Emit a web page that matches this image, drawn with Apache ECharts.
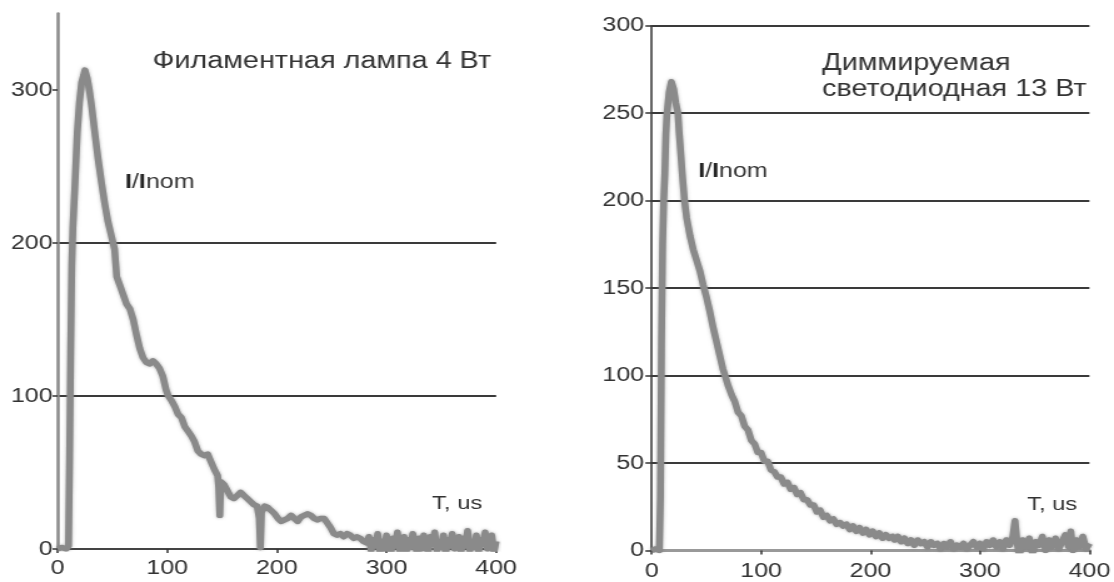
<!DOCTYPE html>
<html>
<head>
<meta charset="utf-8">
<script src="https://cdn.jsdelivr.net/npm/echarts@6/dist/echarts.min.js"></script>
<style>
  html, body { margin: 0; padding: 0; background: #fff; overflow: hidden; }
  /* the source picture is stretched sideways, so the chart is drawn narrow and widened */
  #chart { width: 891px; height: 582px; transform: scaleX(1.2503); transform-origin: 0 0; }
</style>
</head>
<body>
<div id="chart"></div>
<script>
// filament lamp 4 W: time (us) and I/Inom
var leftT = [0, 4, 8, 10, 11, 12, 13, 14, 16, 18, 20, 22, 24, 25, 27, 29, 31, 34, 37, 40,
  43, 46, 49, 52, 54, 57, 60, 63, 66, 69, 72, 75, 78, 81, 84, 87, 90, 93, 96, 99,
  101, 104, 107, 110, 113, 116, 119, 122, 125, 128, 131, 134, 137, 140, 143, 146, 147, 148, 149, 152,
  155, 158, 161, 164, 167, 170, 173, 176, 179, 182, 184, 185, 186, 189, 192, 195, 198, 201, 204, 207,
  210, 213, 216, 219, 222, 225, 228, 231, 234, 237, 240, 243, 246, 249, 252, 255, 258, 261, 264, 267,
  270, 273, 276, 279, 282, 284, 286, 288, 290, 292, 294, 296, 298, 300, 302, 304, 306, 308, 310, 312,
  314, 316, 318, 320, 322, 324, 326, 328, 330, 332, 334, 336, 338, 340, 342, 344, 346, 348, 350, 352,
  354, 356, 358, 360, 362, 364, 366, 368, 370, 372, 374, 376, 378, 380, 382, 384, 386, 388, 390, 392,
  394, 396, 398, 400];
var leftV = [0, 1, 0, 2, 60, 130, 185, 210, 240, 272, 292, 305, 310, 313, 308, 300, 290, 272, 255, 240,
  226, 214, 205, 196, 178, 172, 166, 160, 157, 150, 140, 131, 125, 122, 121, 123, 121, 118, 113, 104,
  100, 97, 93, 88, 86, 80, 77, 74, 70, 64, 62, 61, 62, 57, 52, 48, 40, 22, 44, 42,
  38, 34, 33, 35, 37, 35, 33, 31, 29, 28, 20, 1, 24, 28, 27, 25, 23, 20, 18, 19,
  20, 22, 20, 18, 21, 22, 23, 22, 20, 19, 20, 20, 17, 14, 10, 9, 10, 8, 10, 9,
  7, 8, 7, 5, 4, 8, -1, 6, 2, 10, -2, 5, 0, 9, 1, -3, 7, 2, 11, -1,
  4, 8, -2, 6, 1, 10, 3, -3, 7, 0, 9, 2, -2, 8, 3, 11, -1, 5, 1, 9,
  -3, 6, 2, 10, 0, 4, 8, -2, 7, 2, 12, -1, 5, 1, 9, -2, 6, 3, 11, 0,
  4, 9, -2, 5];

// dimmable LED lamp 13 W
var rightT = [0, 4, 7, 8, 9, 10, 11, 12, 13, 14, 16, 18, 20, 22, 24, 25, 26, 28, 30, 32,
  35, 38, 41, 44, 47, 50, 53, 56, 59, 62, 65, 67, 70, 73, 76, 79, 82, 85, 88, 91,
  94, 97, 100, 103, 106, 109, 112, 115, 118, 121, 124, 127, 130, 133, 136, 139, 142, 145, 148, 151,
  154, 157, 160, 163, 166, 169, 172, 175, 178, 181, 184, 187, 190, 193, 196, 199, 202, 205, 208, 211,
  214, 217, 220, 222, 225, 228, 231, 234, 237, 240, 243, 246, 249, 252, 255, 258, 261, 264, 267, 270,
  273, 276, 279, 282, 285, 288, 291, 294, 297, 300, 303, 306, 309, 312, 315, 318, 321, 324, 327, 330,
  332, 334, 336, 339, 342, 345, 348, 351, 354, 357, 360, 363, 366, 369, 372, 375, 378, 381, 383, 385,
  388, 391, 394, 397, 400];
var rightV = [0, 1, 0, 30, 120, 175, 200, 215, 238, 250, 262, 268, 264, 256, 250, 240, 232, 215, 200, 190,
  180, 172, 166, 160, 152, 145, 137, 128, 120, 112, 104, 100, 94, 89, 85, 79, 77, 71, 69, 63,
  61, 56, 56, 51, 51, 46, 45, 42, 42, 38, 39, 35, 36, 32, 33, 29, 29, 26, 26, 22,
  23, 19, 20, 17, 18, 15, 16, 14, 15, 12, 14, 11, 13, 10, 12, 9, 11, 8, 10, 7,
  9, 7, 8, 6, 8, 5, 7, 4, 6, 3, 6, 4, 5, 2, 5, 3, 4, 1, 4, 2,
  5, 1, 3, 2, 4, 1, 3, 5, 2, 4, 1, 5, 3, 6, 2, 5, 1, 6, 3, 8,
  17, 4, -3, 6, 2, 7, -2, 5, 3, 8, 0, 6, 2, 7, 1, 5, 9, 2, 11, 0,
  6, 2, 8, 1, 4];

var xTicks = [0, 100, 200, 300, 400];
var leftYTicks = [0, 100, 200, 300];

var chartDom = document.getElementById('chart');
var myChart = echarts.init(chartDom, null, { renderer: 'canvas' });

var font = 'Liberation Sans, Arial, sans-serif';
var ink = '#333';

function pairs(ts, vs) {
  return ts.map(function (t, i) { return [t, vs[i]]; });
}

function traceSeries(idx, data) {
  return {
    type: 'line',
    xAxisIndex: idx,
    yAxisIndex: idx,
    data: data,
    symbol: 'none',
    smooth: false,
    lineStyle: {
      color: '#8a8a8a',
      width: 5.5,
      join: 'round',
      shadowBlur: 3,
      shadowColor: 'rgba(120,120,120,0.6)'
    },
    z: 3
  };
}

function xAxis(idx, lineColor, lineWidth, margin) {
  return {
    type: 'value',
    gridIndex: idx,
    min: 0,
    max: 400,
    interval: 100,
    axisLine: { show: true, onZero: false, lineStyle: { color: lineColor, width: lineWidth } },
    axisTick: { show: true, length: 4, lineStyle: { color: ink, width: 1.5 } },
    axisLabel: { fontSize: 20, color: ink, fontFamily: font, margin: margin,
      formatter: function (v) { return xTicks.indexOf(v) >= 0 ? String(v) : ''; } },
    splitLine: { show: false }
  };
}

// plain text blocks; the "I/Inom" label has bold capitals
function note(text, left, top, size, extra) {
  var style = { fontSize: size, fontWeight: 'normal', color: ink, fontFamily: font };
  if (extra) {
    for (var k in extra) style[k] = extra[k];
  }
  return { text: text, left: left, top: top, padding: 0, textStyle: style };
}

var boldI = { rich: { b: { fontSize: 20, fontWeight: 'bold', color: '#222', fontFamily: font } } };

var option = {
  backgroundColor: '#fff',
  animation: false,
  title: [
    note('Филаментная лампа 4 Вт', 122, 50, 23),
    note('Диммируемая\nсветодиодная 13 Вт', 657.6, 51, 23, { lineHeight: 26 }),
    note('{b|I}/{b|I}nom', 100, 172, 20, boldI),
    note('{b|I}/{b|I}nom', 558.4, 161, 20, boldI),
    note('T, us', 345.6, 494, 19),
    note('T, us', 821.4, 495, 19)
  ],
  grid: [
    { left: 46, top: 13.5, width: 350.8, height: 535.5 },
    { left: 521.2, top: 25.7, width: 352.2, height: 524.8 }
  ],
  xAxis: [
    xAxis(0, '#444', 2, 9),
    xAxis(1, '#999', 3, 11)
  ],
  yAxis: [
    {
      type: 'value',
      gridIndex: 0,
      min: 0,
      max: 350,
      interval: 100,
      axisLine: { show: true, lineStyle: { color: '#8a8a8a', width: 2.5 } },
      axisTick: { show: true, length: 4, customValues: leftYTicks, lineStyle: { color: ink, width: 1.5 } },
      axisLabel: { fontSize: 20, color: ink, fontFamily: font, margin: 4, customValues: leftYTicks,
        formatter: function (v) { return leftYTicks.indexOf(v) >= 0 ? String(v) : ''; } },
      splitLine: { show: true, showMinLine: false, showMaxLine: false,
        lineStyle: { color: '#3a3a3a', width: 2 } }
    },
    {
      type: 'value',
      gridIndex: 1,
      min: 0,
      max: 300,
      interval: 50,
      axisLine: { show: true, lineStyle: { color: '#333', width: 1.5 } },
      axisTick: { show: true, length: 5, lineStyle: { color: ink, width: 1.5 } },
      axisLabel: { fontSize: 20, color: ink, fontFamily: font, margin: 6 },
      splitLine: { show: true, showMinLine: false,
        lineStyle: { color: '#3a3a3a', width: 2 } }
    }
  ],
  series: [
    traceSeries(0, pairs(leftT, leftV)),
    traceSeries(1, pairs(rightT, rightV))
  ]
};

myChart.setOption(option);
</script>
</body>
</html>
